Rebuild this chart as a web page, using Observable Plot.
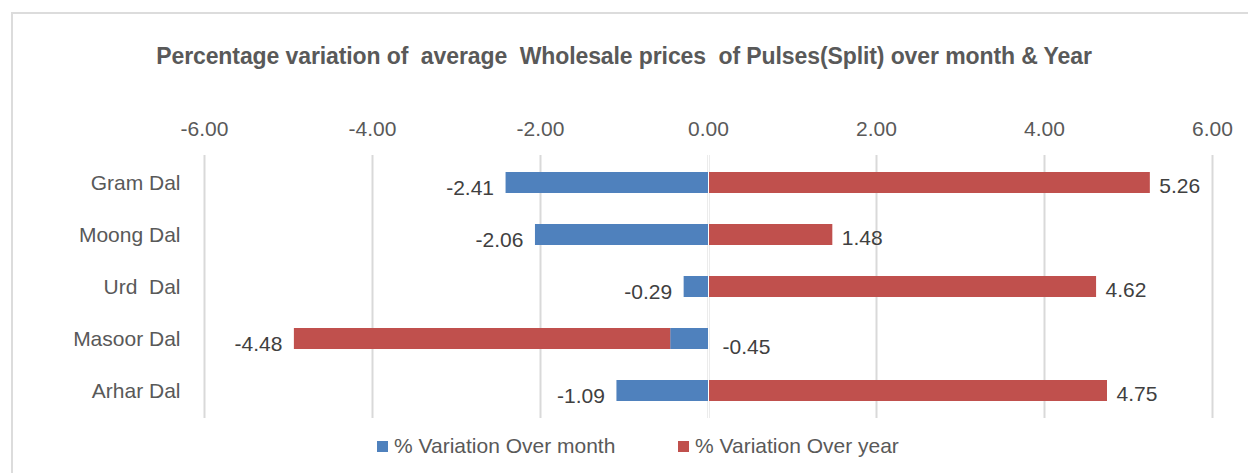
<!DOCTYPE html>
<html>
<head>
<meta charset="utf-8">
<script src="https://cdn.jsdelivr.net/npm/d3@7"></script>
<script src="https://cdn.jsdelivr.net/npm/@observablehq/plot@0.6"></script>
<style>
  html, body { margin: 0; padding: 0; background: #fff; }
  body { width: 1248px; height: 473px; overflow: hidden; position: relative; font-family: "Liberation Sans", Arial, sans-serif; color: #595959; }
  #frame { position: absolute; left: 11px; top: 12px; width: 1240px; height: 470px; border-left: 2px solid #dcdcdc; border-top: 2px solid #dcdcdc; box-sizing: border-box; }
  #title { position: absolute; left: 0; width: 1248px; top: 43px; text-align: center; font-size: 23px; font-weight: bold; color: #595959; white-space: pre; letter-spacing: -0.1px; }
  #chart { position: absolute; left: 0; top: 100px; }
  #legend { position: absolute; top: 434px; left: 0; width: 1248px; font-size: 21px; color: #595959; }
  .item { position: absolute; display: flex; align-items: center; white-space: nowrap; }
  .sw { width: 11px; height: 11px; margin-right: 6px; }
</style>
</head>
<body>
<div id="frame"></div>
<div id="title"></div>
<div id="chart"></div>
<div id="legend"></div>
<script>
const titleText = "Percentage variation of  average  Wholesale prices  of Pulses(Split) over month & Year";
const categories = ["Gram Dal", "Moong Dal", "Urd  Dal", "Masoor Dal", "Arhar Dal"];
const seriesNames = ["% Variation Over month", "% Variation Over year"];
const overMonth = [-2.41, -2.06, -0.29, -0.45, -1.09];
const overYear = [5.26, 1.48, 4.62, -4.48, 4.75];
const xTicks = [-6, -4, -2, 0, 2, 4, 6];
const colors = ["#4F81BD", "#C0504D"];

document.getElementById("title").textContent = titleText;

const rows = [];
categories.forEach((c, i) => rows.push({name: c, series: seriesNames[0], value: overMonth[i]}));
categories.forEach((c, i) => rows.push({name: c, series: seriesNames[1], value: overYear[i]}));

// label positions computed from the values (stacked ends)
const labels = [];
categories.forEach((c, i) => {
  const m = overMonth[i], y = overYear[i];
  const sameSign = Math.sign(m) === Math.sign(y);
  const yEnd = sameSign ? m + y : y;
  if (m < 0 && sameSign) labels.push({name: c, x: 0, text: m.toFixed(2), kind: "start0"});
  else if (m < 0) labels.push({name: c, x: m, text: m.toFixed(2), kind: "neg"});
  else labels.push({name: c, x: m, text: m.toFixed(2), kind: "pos"});
  labels.push({name: c, x: yEnd, text: y.toFixed(2), kind: yEnd < 0 ? "neg" : "pos"});
});

const fmt = d => d.toFixed(2);

const chart = Plot.plot({
  width: 1248,
  height: 325,
  marginTop: 55,
  marginBottom: 7,
  marginLeft: 204,
  marginRight: 36,
  style: {fontFamily: "'Liberation Sans', Arial, sans-serif", fontSize: "21px", color: "#595959", background: "transparent"},
  x: {domain: [-6, 6], ticks: xTicks, tickFormat: fmt, axis: "top", tickSize: 0, tickPadding: 20, label: null},
  y: {domain: categories, paddingInner: 0.6, paddingOuter: 0.3, tickSize: 0, tickPadding: 24, label: null},
  color: {domain: seriesNames, range: colors},
  marks: [
    Plot.ruleX(xTicks, {stroke: "#d9d9d9", strokeWidth: 2}),
    Plot.barX(rows, Plot.stackX({x: "value", y: "name", fill: "series", z: "series"})),
    Plot.ruleX([0], {stroke: "#ffffff", strokeWidth: 1}),
    Plot.text(labels.filter(d => d.kind === "pos"), {x: "x", y: "name", text: "text", textAnchor: "start", dx: 9, dy: 3, fill: "#404040", fontSize: 21}),
    Plot.text(labels.filter(d => d.kind === "neg"), {x: "x", y: "name", text: "text", textAnchor: "end", dx: -12, dy: 5, fill: "#404040", fontSize: 21}),
    Plot.text(labels.filter(d => d.kind === "start0"), {x: "x", y: "name", text: "text", textAnchor: "start", dx: 14, dy: 8, fill: "#404040", fontSize: 21})
  ]
});
document.getElementById("chart").appendChild(chart);

const legend = document.getElementById("legend");
const legendLeft = [377, 678];
seriesNames.forEach((s, i) => {
  const it = document.createElement("div");
  it.className = "item";
  it.style.left = legendLeft[i] + "px";
  it.innerHTML = `<div class="sw" style="background:${colors[i]}"></div><span>${s}</span>`;
  legend.appendChild(it);
});
</script>
</body>
</html>
